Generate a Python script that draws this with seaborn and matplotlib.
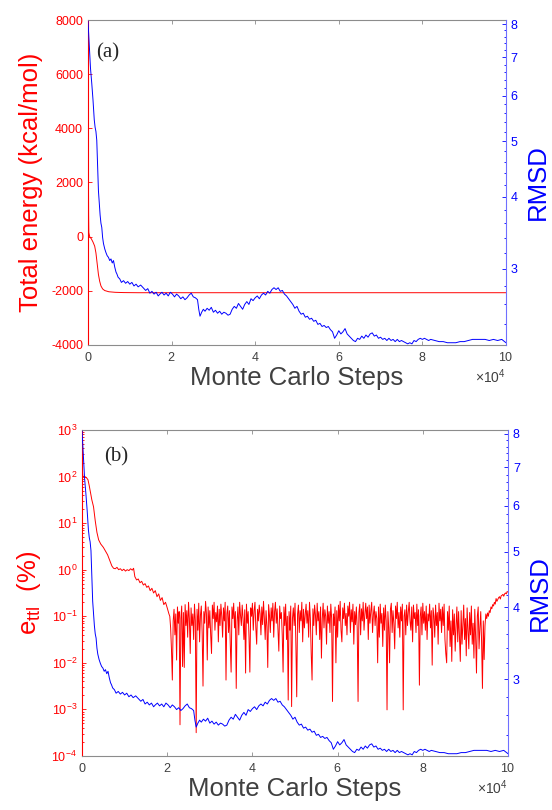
import numpy as np
import pandas as pd
import seaborn as sns
import matplotlib
matplotlib.use('Agg')
import matplotlib.pyplot as plt
from matplotlib.ticker import (FixedLocator, NullFormatter, FuncFormatter,
                               MultipleLocator, LogLocator)

# ---- data (steps in units of 1e4) ----

# RMSD trace, same run in both panels
rmsd_steps = [0.00, 0.02, 0.04, 0.06, 0.09, 0.12, 0.15, 0.17, 0.19, 0.21,
              0.23, 0.25, 0.27, 0.29, 0.31, 0.33, 0.35, 0.37, 0.40, 0.43,
              0.46, 0.49, 0.52, 0.55, 0.58, 0.61, 0.64, 0.67, 0.69, 0.72,
              0.76, 0.80, 0.85, 0.90, 0.95, 1.00, 1.05, 1.10, 1.15, 1.20,
              1.26, 1.32, 1.38, 1.43, 1.48, 1.53, 1.58, 1.63, 1.68, 1.72,
              1.77, 1.82, 1.87, 1.92, 1.97, 2.02, 2.07, 2.12, 2.17, 2.22,
              2.27, 2.32, 2.37, 2.42, 2.47, 2.52, 2.57, 2.62, 2.65, 2.68,
              2.72, 2.76, 2.80, 2.85, 2.90, 2.95, 3.00, 3.05, 3.10, 3.15,
              3.20, 3.25, 3.30, 3.35, 3.40, 3.45, 3.50, 3.55, 3.60, 3.65,
              3.70, 3.75, 3.80, 3.85, 3.90, 3.95, 4.00, 4.05, 4.10, 4.15,
              4.20, 4.25, 4.30, 4.35, 4.40, 4.45, 4.50, 4.55, 4.60, 4.65,
              4.70, 4.75, 4.80, 4.85, 4.90, 4.95, 5.00, 5.05, 5.10, 5.15,
              5.20, 5.25, 5.30, 5.35, 5.40, 5.45, 5.50, 5.55, 5.60, 5.65,
              5.70, 5.75, 5.80, 5.85, 5.90, 5.95, 6.00, 6.05, 6.10, 6.15,
              6.20, 6.25, 6.30, 6.35, 6.40, 6.45, 6.50, 6.55, 6.60, 6.65,
              6.70, 6.75, 6.80, 6.85, 6.90, 6.95, 7.00, 7.05, 7.10, 7.15,
              7.20, 7.25, 7.30, 7.35, 7.40, 7.45, 7.50, 7.55, 7.60, 7.65,
              7.70, 7.75, 7.80, 7.85, 7.90, 7.95, 8.00, 8.05, 8.10, 8.15,
              8.20, 8.30, 8.40, 8.50, 8.60, 8.70, 8.80, 8.90, 9.00, 9.10,
              9.20, 9.30, 9.40, 9.50, 9.60, 9.70, 9.80, 9.90, 10.00]
rmsd_vals = [8.10, 7.60, 7.10, 6.70, 6.31, 5.90, 5.45, 5.29, 5.20, 5.02,
             4.55, 4.10, 3.90, 3.72, 3.60, 3.54, 3.40, 3.32, 3.25, 3.20,
             3.16, 3.14, 3.10, 3.12, 3.07, 3.10, 3.02, 2.96, 2.94, 2.90,
             2.88, 2.84, 2.86, 2.83, 2.85, 2.82, 2.84, 2.80, 2.82, 2.79,
             2.81, 2.78, 2.75, 2.77, 2.72, 2.74, 2.71, 2.73, 2.69, 2.71,
             2.73, 2.70, 2.72, 2.69, 2.73, 2.71, 2.68, 2.71, 2.69, 2.66,
             2.68, 2.65, 2.67, 2.70, 2.72, 2.68, 2.67, 2.65, 2.55, 2.48,
             2.52, 2.55, 2.53, 2.56, 2.54, 2.57, 2.52, 2.54, 2.51, 2.53,
             2.50, 2.52, 2.51, 2.49, 2.50, 2.55, 2.58, 2.56, 2.61, 2.58,
             2.55, 2.60, 2.63, 2.60, 2.66, 2.64, 2.67, 2.69, 2.66, 2.70,
             2.72, 2.70, 2.74, 2.72, 2.76, 2.78, 2.76, 2.78, 2.74, 2.75,
             2.71, 2.69, 2.66, 2.63, 2.60, 2.56, 2.58, 2.53, 2.50, 2.51,
             2.47, 2.48, 2.45, 2.46, 2.43, 2.44, 2.40, 2.41, 2.38, 2.39,
             2.37, 2.38, 2.35, 2.33, 2.27, 2.30, 2.34, 2.31, 2.33, 2.36,
             2.31, 2.29, 2.27, 2.25, 2.24, 2.27, 2.26, 2.29, 2.27, 2.30,
             2.28, 2.31, 2.32, 2.29, 2.30, 2.27, 2.28, 2.26, 2.27, 2.25,
             2.27, 2.25, 2.26, 2.24, 2.26, 2.24, 2.25, 2.24, 2.23, 2.22,
             2.23, 2.22, 2.25, 2.24, 2.26, 2.27, 2.26, 2.27, 2.26, 2.25,
             2.26, 2.25, 2.24, 2.24, 2.23, 2.23, 2.23, 2.24, 2.24, 2.25,
             2.26, 2.26, 2.26, 2.26, 2.25, 2.26, 2.25, 2.26, 2.23]

# total energy (kcal/mol)
energy_steps = [0.000, 0.005, 0.010, 0.015, 0.020, 0.040, 0.080, 0.120, 0.160,
                0.190, 0.220, 0.250, 0.280, 0.310, 0.350, 0.400, 0.500, 0.650,
                0.850, 1.200, 10.000]
energy_vals = [8000, 5000, 2500, 800, 150, 0, -80, -200, -350,
               -600, -1000, -1400, -1650, -1820, -1930, -1990, -2035, -2055,
               -2065, -2070, -2070]

# e_ttl (%) as log10, initial decay
ettl_head_steps = [0.00, 0.01, 0.02, 0.06, 0.10, 0.14, 0.17, 0.20, 0.23, 0.27,
                   0.31, 0.35, 0.39, 0.44, 0.50, 0.55, 0.60, 0.65, 0.70, 0.74,
                   0.78, 0.82, 0.86, 0.90, 0.94, 0.98, 1.02, 1.06, 1.10, 1.14,
                   1.18, 1.21, 1.24, 1.28, 1.32, 1.36, 1.40, 1.44, 1.48, 1.52,
                   1.56, 1.60, 1.64, 1.68, 1.72, 1.76, 1.80, 1.84, 1.88, 1.92,
                   1.96, 2.00, 2.04]
ettl_head_log = [3.00, 2.10, 2.00, 2.00, 1.98, 1.93, 1.80, 1.65, 1.50, 1.35,
                 1.05, 0.80, 0.64, 0.55, 0.48, 0.40, 0.32, 0.20, 0.08, 0.03,
                 0.02, 0.05, 0.00, 0.02, -0.02, 0.01, -0.03, 0.00, -0.02, 0.02,
                 -0.01, 0.03, -0.15, -0.22, -0.20, -0.28, -0.25, -0.33, -0.30, -0.38,
                 -0.35, -0.45, -0.40, -0.50, -0.45, -0.58, -0.52, -0.66, -0.60, -0.75,
                 -0.70, -0.82, -0.95]

# e_ttl noisy plateau, one value every 0.02e4 steps from 2.06e4
ettl_noise_start = 2.06
ettl_noise_log = [
    -1.00, -1.25, -1.72, -2.37, -1.10, -0.85, -1.40, -0.95, -1.94, -0.80,
    -1.15, -0.90, -3.33, -1.05, -0.78, -2.08, -0.92, -2.10, -0.75, -1.20,
    -0.88, -1.45, -0.70, -1.05, -1.80, -0.82, -1.20, -0.95, -1.50, -0.74,
    -1.10, -3.50, -0.85, -1.30, -0.72, -1.55, -0.98, -0.78, -1.35, -2.50,
    -0.90, -1.15, -0.68, -0.95, -1.94, -0.80, -1.25, -0.88, -1.40, -1.80,
    -0.76, -1.05, -0.70, -1.30, -0.92, -1.12, -0.78, -1.55, -0.85, -1.20,
    -0.74, -1.00, -1.45, -0.82, -1.10, -0.70, -2.37, -0.95, -0.78, -1.35,
    -0.88, -1.60, -2.20, -0.80, -1.05, -0.72, -1.25, -0.90, -2.55, -1.10,
    -0.80, -1.40, -0.70, -0.98, -1.20, -0.76, -1.05, -1.50, -0.86, -2.22,
    -0.74, -1.15, -0.90, -1.45, -2.20, -0.82, -1.00, -0.72, -1.30, -0.88,
    -0.70, -1.25, -1.60, -0.85, -1.10, -0.76, -0.95, -1.40, -0.80, -1.18,
    -0.68, -1.05, -1.50, -0.88, -1.22, -2.10, -0.75, -0.98, -1.35, -0.82,
    -1.10, -0.72, -1.45, -0.90, -0.70, -1.15, -0.84, -1.30, -1.75, -0.78,
    -1.05, -0.92, -1.40, -2.20, -0.80, -1.20, -0.74, -1.50, -1.00, -2.80,
    -0.90, -1.30, -0.78, -2.94, -1.05, -0.82, -1.20, -0.72, -1.60, -2.73,
    -0.95, -0.76, -1.35, -0.88, -1.10, -0.70, -1.55, -0.85, -1.25, -0.96,
    -0.74, -1.15, -0.88, -1.45, -0.70, -1.05, -1.80, -2.37, -0.84, -1.20,
    -0.76, -0.98, -1.40, -0.72, -1.10, -0.90, -1.50, -0.80, -1.90, -1.05,
    -0.72, -1.25, -0.86, -1.00, -1.60, -0.78, -1.15, -0.90, -1.35, -0.74,
    -1.05, -2.83, -0.95, -1.20, -0.80, -2.00, -0.88, -1.45, -0.76, -1.10,
    -0.68, -1.30, -1.55, -0.82, -1.05, -0.72, -1.20, -0.94, -1.40, -0.78,
    -1.00, -0.70, -1.35, -0.86, -1.12, -0.74, -1.60, -0.90, -1.18, -0.80,
    -1.25, -2.83, -0.92, -0.74, -1.40, -0.84, -1.10, -0.70, -1.30, -0.95,
    -0.72, -1.05, -0.80, -1.50, -0.76, -1.15, -0.88, -0.70, -1.35, -0.96,
    -0.78, -1.20, -0.90, -1.05, -2.00, -0.80, -1.45, -0.74, -1.15, -0.94,
    -1.65, -0.82, -1.30, -0.76, -1.10, -3.01, -0.90, -1.25, -2.00, -0.85,
    -0.72, -1.35, -0.88, -1.15, -1.70, -0.78, -1.05, -0.70, -1.25, -0.92,
    -1.45, -0.80, -1.10, -0.74, -3.01, -1.00, -0.86, -1.40, -0.76, -1.20,
    -0.90, -0.70, -1.10, -1.30, -0.80, -1.55, -0.76, -1.05, -0.92, -1.35,
    -0.74, -1.20, -0.86, -2.48, -1.00, -0.80, -1.40, -0.72, -1.15, -0.90,
    -1.30, -0.78, -1.50, -0.95, -1.10, -0.74, -1.25, -0.88, -2.05, -0.82,
    -1.00, -1.45, -0.76, -1.20, -0.92, -1.60, -0.72, -1.10, -0.85, -1.35,
    -0.80, -1.20, -0.74, -1.50, -1.80, -2.00, -0.90, -1.30, -0.78, -1.65,
    -1.10, -1.97, -0.86, -1.40, -0.95, -1.75, -1.20, -0.80, -1.55, -0.90,
    -1.45, -1.97, -0.88, -1.60, -1.20, -0.76, -1.50, -1.05, -1.85, -0.82,
    -1.30, -1.70, -0.92, -1.40, -0.78, -1.60, -1.15, -1.90, -0.85, -1.45,
    -2.22, -1.00, -0.80, -1.70, -1.25, -0.90, -1.55, -2.55, -1.10, -1.93,
    -1.20, -0.95, -1.05]

# e_ttl final rise
ettl_tail_steps = [9.52, 9.54, 9.56, 9.58, 9.60, 9.62, 9.64, 9.66, 9.68, 9.70,
                   9.72, 9.74, 9.76, 9.78, 9.80, 9.82, 9.84, 9.86, 9.88, 9.90,
                   9.92, 9.94, 9.96, 9.98, 10.00]
ettl_tail_log = [-0.93, -1.00, -0.88, -0.92, -0.80, -0.84, -0.75, -0.78, -0.70,
                 -0.74, -0.62, -0.68, -0.64, -0.60, -0.58, -0.63, -0.56, -0.55,
                 -0.53, -0.57, -0.52, -0.50, -0.52, -0.47, -0.48]

# ---- tables ----
rmsd_df = pd.DataFrame({'step': np.array(rmsd_steps) * 1e4, 'rmsd': rmsd_vals})
energy_df = pd.DataFrame({'step': np.array(energy_steps) * 1e4, 'energy': energy_vals})
noise_steps = np.round(ettl_noise_start + 0.02 * np.arange(len(ettl_noise_log)), 2)
ettl_df = pd.DataFrame({
    'step': np.concatenate([ettl_head_steps, noise_steps, ettl_tail_steps]) * 1e4,
    'ettl': 10.0 ** np.concatenate([ettl_head_log, ettl_noise_log, ettl_tail_log]),
})

# ---- style ----
sns.set_style('white')
plt.rcParams['font.family'] = ['Liberation Sans', 'DejaVu Sans']
plt.rcParams['mathtext.fontset'] = 'custom'
plt.rcParams['mathtext.rm'] = 'Liberation Sans'
plt.rcParams['mathtext.it'] = 'Liberation Sans:italic'
plt.rcParams['mathtext.bf'] = 'Liberation Sans:bold'
plt.rcParams['axes.unicode_minus'] = False

RED = '#ff0000'
BLUE = '#0000ff'
GRAY = '#404040'
SPINE_GRAY = '#8c8c8c'

fig = plt.figure(figsize=(5.52, 8.10), dpi=100)
ax_a = fig.add_axes([0.1594, 0.5741, 0.7572, 0.4012])
ax_b = fig.add_axes([0.1486, 0.0667, 0.7717, 0.4025])


def style_panel(ax, tw):
    ax.set_xlim(0, 1e5)
    ax.xaxis.set_major_locator(MultipleLocator(2e4))
    ax.ticklabel_format(axis='x', style='sci', scilimits=(4, 4), useMathText=True)
    ax.tick_params(axis='x', which='both', direction='in', top=True, bottom=True,
                   length=3, width=0.6, color=SPINE_GRAY, labelcolor=GRAY,
                   labelsize=9, pad=4)
    ax.xaxis.get_offset_text().set_fontsize(10)
    ax.xaxis.get_offset_text().set_color(GRAY)
    ax.tick_params(axis='y', which='both', direction='in', left=True, right=False,
                   color=RED, labelcolor=RED, labelsize=9, width=0.6)
    ax.tick_params(axis='y', which='major', length=3)
    ax.tick_params(axis='y', which='minor', length=1.5)
    for side in ('top', 'bottom'):
        ax.spines[side].set_color(SPINE_GRAY)
        ax.spines[side].set_linewidth(0.8)
    ax.spines['left'].set_color(RED)
    ax.spines['left'].set_linewidth(0.8)
    ax.spines['right'].set_visible(False)
    ax.set_xlabel('Monte Carlo Steps', fontsize=18.5, color=GRAY, labelpad=2)

    # RMSD axis on the right
    tw.set_yscale('log')
    tw.set_ylim(2.21, 8.13)
    tw.yaxis.set_major_locator(FixedLocator([3, 4, 5, 6, 7, 8]))
    tw.yaxis.set_major_formatter(FuncFormatter(lambda v, p: f'{v:g}'))
    tw.yaxis.set_minor_locator(FixedLocator(
        [2.4, 2.6, 2.8, 3.2, 3.4, 3.6, 3.8, 4.2, 4.4, 4.6, 4.8, 5.2, 5.4, 5.6,
         5.8, 6.2, 6.4, 6.6, 6.8, 7.2, 7.4, 7.6, 7.8]))
    tw.yaxis.set_minor_formatter(NullFormatter())
    tw.tick_params(axis='y', which='both', direction='in', color=BLUE,
                   labelcolor=BLUE, labelsize=9, width=0.6)
    tw.tick_params(axis='y', which='major', length=3)
    tw.tick_params(axis='y', which='minor', length=1.5)
    for side in ('top', 'bottom', 'left'):
        tw.spines[side].set_visible(False)
    tw.spines['right'].set_color('#6f6fff')
    tw.spines['right'].set_linewidth(0.8)
    tw.set_ylabel('RMSD', fontsize=18.5, color=BLUE, labelpad=6)


# ---- panel (a) ----
sns.lineplot(data=energy_df, x='step', y='energy', ax=ax_a, color=RED,
             linewidth=0.7, estimator=None, sort=False)
ax_a.set_ylim(-4000, 8000)
ax_a.yaxis.set_major_locator(MultipleLocator(2000))
ax_a.set_ylabel('Total energy (kcal/mol)', fontsize=18.5, color=RED, labelpad=6)

tw_a = ax_a.twinx()
sns.lineplot(data=rmsd_df, x='step', y='rmsd', ax=tw_a, color=BLUE,
             linewidth=0.7, estimator=None, sort=False)
style_panel(ax_a, tw_a)
ax_a.text(0.02, 0.90, '(a)', transform=ax_a.transAxes, fontsize=15,
          family='Liberation Serif', va='center', ha='left')

# ---- panel (b) ----
sns.lineplot(data=ettl_df, x='step', y='ettl', ax=ax_b, color=RED,
             linewidth=0.7, estimator=None, sort=False)
ax_b.set_yscale('log')
ax_b.set_ylim(1e-4, 1e3)
ax_b.yaxis.set_major_locator(LogLocator(base=10, numticks=10))
ax_b.yaxis.set_minor_locator(LogLocator(base=10, subs=np.arange(2, 10), numticks=20))
ax_b.yaxis.set_minor_formatter(NullFormatter())
ax_b.set_ylabel(r'$\mathregular{e_{ttl}}$  (%)', fontsize=18.5, color=RED, labelpad=6)

tw_b = ax_b.twinx()
sns.lineplot(data=rmsd_df, x='step', y='rmsd', ax=tw_b, color=BLUE,
             linewidth=0.7, estimator=None, sort=False)
style_panel(ax_b, tw_b)
ax_b.text(0.052, 0.917, '(b)', transform=ax_b.transAxes, fontsize=15,
          family='Liberation Serif', va='center', ha='left')

fig.savefig('out.png', dpi=100)
